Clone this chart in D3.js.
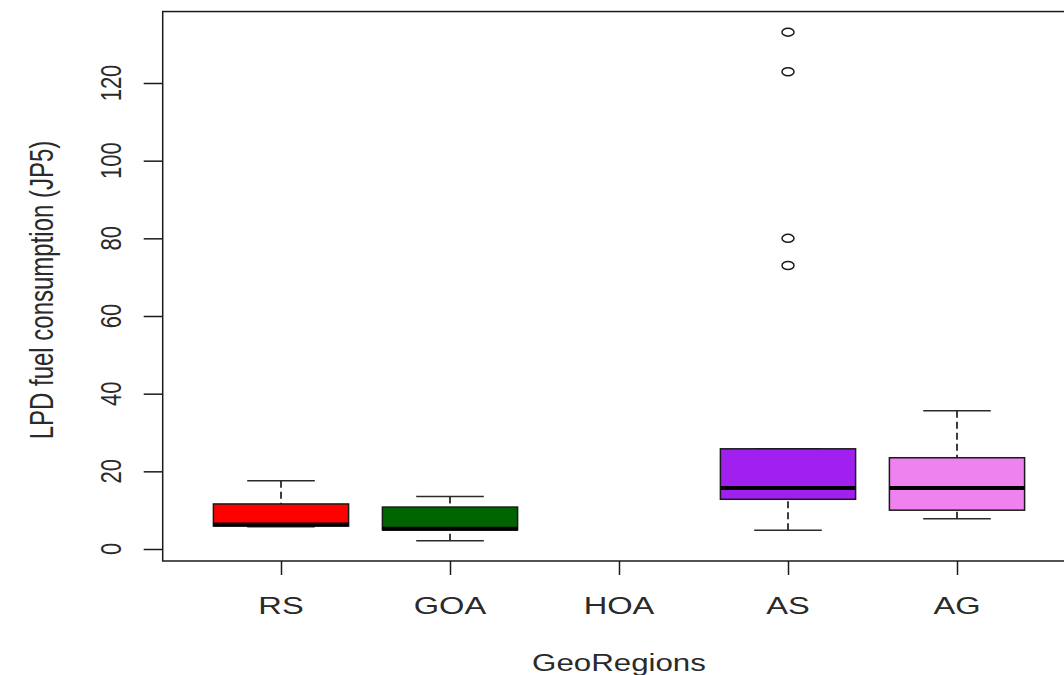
<!DOCTYPE html>
<html>
<head>
<meta charset="utf-8">
<script src="https://cdn.jsdelivr.net/npm/d3@7/dist/d3.min.js"></script>
<style>
html,body{margin:0;padding:0;background:#fff;}
svg{display:block;}
text{font-family:"Liberation Sans",Arial,sans-serif;fill:#2a2a2a;}
</style>
</head>
<body>
<svg id="chart" width="1064" height="675"></svg>
<script>
// ---- data ----
const categories = ["RS", "GOA", "HOA", "AS", "AG"];
const colors = ["#FF0000", "#006400", "#BEBEBE", "#A020F0", "#EE82EE"];
const whiskerLow  = [5.7, 2.1, null, 4.8, 7.8];
const q1          = [5.9, 4.9, null, 12.8, 10.0];
const medians     = [6.3, 5.2, null, 15.7, 15.7];
const q3          = [11.6, 10.8, null, 25.8, 23.5];
const whiskerHigh = [17.6, 13.5, null, 25.8, 35.6];
const outlierGroup = ["AS", "AS", "AS", "AS"];
const outlierValues = [73.0, 80.0, 122.9, 133.1];
const yTicks = [0, 20, 40, 60, 80, 100, 120];
const yTitle = "LPD fuel consumption (JP5)";
const xTitle = "GeoRegions";

// ---- layout ----
const svg = d3.select("#chart");
const SX = 1.36; // horizontal stretch of the original picture
const x = d3.scaleLinear().domain([0.3, 5.7]).range([162.7, 1075.3]);
const y = d3.scaleLinear().domain([0, 120]).range([549, 83]);
const yMin = -3.09, yMax = 138.4;
const boxHalf = 0.4, capHalf = 0.2;
const lineCol = "#2a2a2a";

const boxes = categories.map((c, i) => ({
  cat: c, i: i + 1, color: colors[i],
  lo: whiskerLow[i], q1: q1[i], med: medians[i], q3: q3[i], hi: whiskerHigh[i]
})).filter(d => d.med !== null);

const g = svg.append("g");

// whiskers (dashed)
g.selectAll("line.wl").data(boxes).join("line")
  .attr("x1", d => x(d.i)).attr("x2", d => x(d.i))
  .attr("y1", d => y(d.lo)).attr("y2", d => y(d.q1))
  .attr("stroke", lineCol).attr("stroke-width", 1.8).attr("stroke-dasharray", "7,4");
g.selectAll("line.wh").data(boxes).join("line")
  .attr("x1", d => x(d.i)).attr("x2", d => x(d.i))
  .attr("y1", d => y(d.hi)).attr("y2", d => y(d.q3))
  .attr("stroke", lineCol).attr("stroke-width", 1.8).attr("stroke-dasharray", "7,4");
// caps
["lo", "hi"].forEach(k => {
  g.selectAll("line.cap" + k).data(boxes).join("line")
    .attr("x1", d => x(d.i - capHalf)).attr("x2", d => x(d.i + capHalf))
    .attr("y1", d => y(d[k])).attr("y2", d => y(d[k]))
    .attr("stroke", lineCol).attr("stroke-width", 1.5);
});
// boxes
g.selectAll("rect.box").data(boxes).join("rect")
  .attr("x", d => x(d.i - boxHalf))
  .attr("width", d => x(d.i + boxHalf) - x(d.i - boxHalf))
  .attr("y", d => y(d.q3))
  .attr("height", d => y(d.q1) - y(d.q3))
  .attr("fill", d => d.color).attr("stroke", "#1a1a1a").attr("stroke-width", 1.5);
// medians
g.selectAll("line.med").data(boxes).join("line")
  .attr("x1", d => x(d.i - boxHalf)).attr("x2", d => x(d.i + boxHalf))
  .attr("y1", d => y(d.med)).attr("y2", d => y(d.med))
  .attr("stroke", "#000").attr("stroke-width", 4);
// outliers
g.selectAll("ellipse.out").data(outlierValues.map((v, j) => ({v, c: outlierGroup[j]}))).join("ellipse")
  .attr("cx", d => x(categories.indexOf(d.c) + 1))
  .attr("cy", d => y(d.v))
  .attr("rx", 6).attr("ry", 4)
  .attr("fill", "none").attr("stroke", "#1a1a1a").attr("stroke-width", 1.5);

// plot frame
svg.append("rect")
  .attr("x", x(0.3)).attr("y", y(yMax))
  .attr("width", x(5.7) - x(0.3)).attr("height", y(yMin) - y(yMax))
  .attr("fill", "none").attr("stroke", "#1a1a1a").attr("stroke-width", 1.5);

// y axis
const ya = svg.append("g").attr("transform", `translate(${x(0.3)},0)`)
  .call(d3.axisLeft(y).tickValues(yTicks).tickSize(19).tickFormat(""));
ya.select(".domain").remove();
ya.selectAll("line").attr("stroke", "#1a1a1a").attr("stroke-width", 1.5);
svg.append("g").selectAll("text").data(yTicks).join("text")
  .attr("transform", d => `translate(121,${y(d)}) scale(${SX},1) rotate(-90)`)
  .attr("text-anchor", "middle")
  .style("font-size", "22px")
  .text(d => d);

// x axis
const xa = svg.append("g").attr("transform", `translate(0,${y(yMin)})`)
  .call(d3.axisBottom(x).tickValues(categories.map((c, i) => i + 1)).tickSize(14).tickFormat(""));
xa.select(".domain").remove();
xa.selectAll("line").attr("stroke", "#1a1a1a").attr("stroke-width", 1.5);
svg.append("g").selectAll("text").data(categories).join("text")
  .attr("transform", (d, i) => `translate(${x(i + 1)},614) scale(${SX},1)`)
  .attr("text-anchor", "middle")
  .style("font-size", "24px")
  .text(d => d);

// titles
svg.append("text")
  .attr("transform", `translate(${(x(0.3) + x(5.7)) / 2},671) scale(${SX},1)`)
  .attr("text-anchor", "middle").style("font-size", "23px")
  .text(xTitle);
svg.append("text")
  .attr("transform", `translate(53,290) scale(${SX},1) rotate(-90)`)
  .attr("text-anchor", "middle").style("font-size", "24px")
  .text(yTitle);
</script>
</body>
</html>
